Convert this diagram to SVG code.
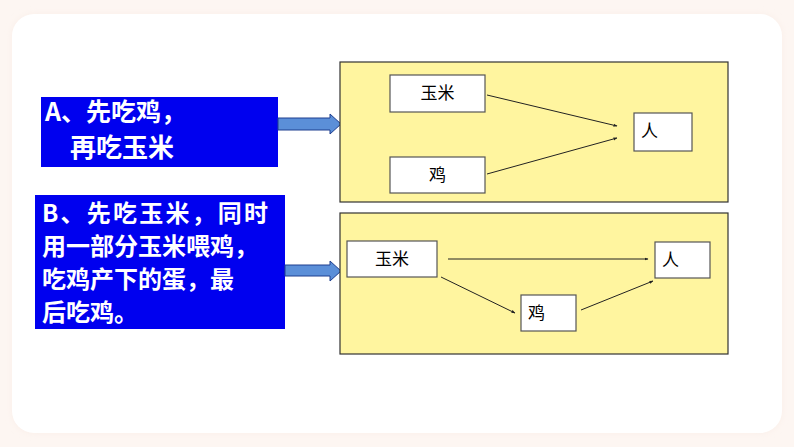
<svg xmlns="http://www.w3.org/2000/svg" width="794" height="447" viewBox="0 0 794 447">
<defs>
<style>
.bg{fill:#fdf6f2}
.card{fill:#ffffff}
.panel{fill:#fff59f;stroke:#333333;stroke-width:1.2}
.blue{fill:#0000ef}
.btxt{font-family:"Noto Sans CJK SC","Liberation Sans",sans-serif;font-weight:bold;fill:#ffffff;font-size:24px}
.node{fill:#ffffff;stroke:#555555;stroke-width:1.2}
.ntxt{font-family:"Noto Sans CJK SC","Liberation Sans",sans-serif;fill:#000000;font-size:17px}
.big{fill:#5b8fd8;stroke:#1f3f8f;stroke-width:1}
.edge{stroke:#222222;stroke-width:1;fill:none;marker-end:url(#ah)}
</style>
<marker id="ah" viewBox="0 0 8 8" refX="7" refY="4" markerWidth="4" markerHeight="4" orient="auto" markerUnits="userSpaceOnUse">
<path d="M0,1 L8,4 L0,7 Z" fill="#222222"/>
</marker>
<filter id="soft" x="-5%" y="-5%" width="110%" height="110%"><feGaussianBlur stdDeviation="3"/></filter>
</defs>
<rect class="bg" x="0" y="0" width="794" height="447"/>
<rect x="12" y="14" width="770" height="419" rx="22" fill="#f9eee8" filter="url(#soft)"/>
<rect class="card" x="12" y="14" width="770" height="419" rx="22"/>

<g id="textA">
<rect class="blue" x="41" y="97" width="237" height="70"/>
<text class="btxt" x="45" y="121" style="font-size:25px">A、先吃鸡，</text>
<text class="btxt" x="70" y="157" style="font-size:26px">再吃玉米</text>
</g>
<g id="textB">
<rect class="blue" x="35" y="195" width="250" height="134"/>
<text class="btxt" x="42" y="222" textLength="226" lengthAdjust="spacing">B、先吃玉米，同时</text>
<text class="btxt" x="42" y="255">用一部分玉米喂鸡，</text>
<text class="btxt" x="42" y="288">吃鸡产下的蛋，最</text>
<text class="btxt" x="42" y="321">后吃鸡。</text>
</g>

<g id="bigArrowA">
<path class="big" d="M278,118 L330,118 L330,114 L341,124 L330,134 L330,130 L278,130 Z"/>
</g>
<g id="bigArrowB">
<path class="big" d="M285,265 L330,265 L330,261 L341,271 L330,281 L330,276 L285,276 Z"/>
</g>

<g id="panelA">
<rect class="panel" x="340" y="62" width="388" height="140"/>
</g>
<g id="panelB">
<rect class="panel" x="340" y="213" width="388" height="141"/>
</g>

<g id="A-corn">
<rect class="node" x="390" y="75" width="95" height="37"/>
<text class="ntxt" x="437.5" y="99" text-anchor="middle">玉米</text>
</g>
<g id="A-chicken">
<rect class="node" x="390" y="157" width="95" height="36"/>
<text class="ntxt" x="437.5" y="181" text-anchor="middle">鸡</text>
</g>
<g id="A-person">
<rect class="node" x="634" y="113" width="58" height="38"/>
<text class="ntxt" x="641" y="137">人</text>
</g>

<g id="B-corn">
<rect class="node" x="347" y="241" width="90" height="36"/>
<text class="ntxt" x="392" y="265" text-anchor="middle">玉米</text>
</g>
<g id="B-person">
<rect class="node" x="655" y="242" width="55" height="36"/>
<text class="ntxt" x="662" y="266">人</text>
</g>
<g id="B-chicken">
<rect class="node" x="521" y="295" width="55" height="36"/>
<text class="ntxt" x="528" y="319">鸡</text>
</g>

<g id="connectors">
<line class="edge" x1="487" y1="95" x2="617" y2="126"/>
<line class="edge" x1="487" y1="174" x2="617" y2="138"/>
<line class="edge" x1="448" y1="259" x2="648" y2="259"/>
<line class="edge" x1="441" y1="277" x2="515" y2="313"/>
<line class="edge" x1="581" y1="310" x2="653" y2="281"/>
</g>
</svg>
